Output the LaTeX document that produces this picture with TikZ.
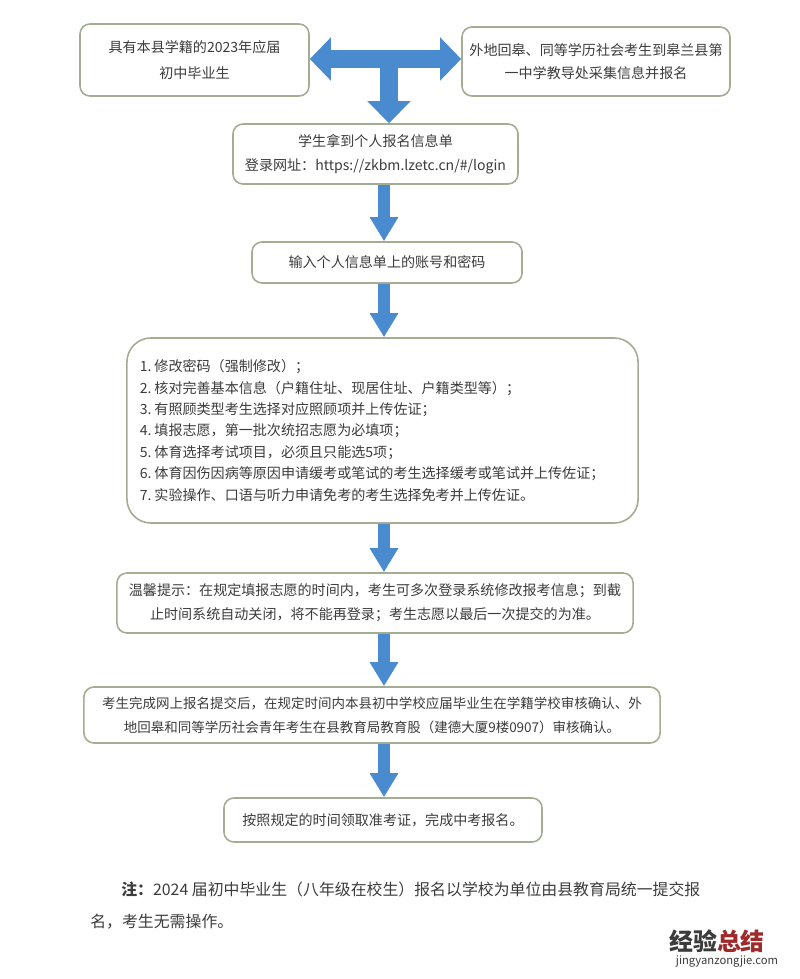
\documentclass[tikz,border=0pt]{standalone}
\usepackage{fontspec}
\setmainfont{Noto Sans CJK SC}
\usetikzlibrary{arrows.meta}
\definecolor{arrowblue}{HTML}{4A8BCF}
\definecolor{boxgreen}{HTML}{A4AD93}
\definecolor{textgray}{HTML}{3C3C3C}
\definecolor{markred}{HTML}{9E2B2B}

\begin{document}
\begin{tikzpicture}[
						x=0.025cm, y=-0.025cm,
						% Define a style for the boxes and the blue arrows
						box style/.style={draw=boxgreen, line width=0.4mm, rounded corners=2.5mm, fill=white, text=textgray, align=center, inner sep=0pt, font=\fontsize{10}{17}\selectfont},
						flow arrow/.style={draw=arrowblue, line width=2.9mm, -{Triangle[width=6.75mm, length=6mm]}},
						t arrow/.style={draw=arrowblue, line width=4.5mm}
						]
						\useasboundingbox (0,0) rectangle (800,979);
						
						% Define and place your nodes
						\node[box style, minimum width=5.725cm, minimum height=1.8cm] (local) at (194.5,60) {具有本县学籍的2023年应届\\[1.5pt]初中毕业生};
						\node[box style, minimum width=6.7cm, minimum height=1.725cm] (remote) at (596,61.5) {外地回皋、同等学历社会考生到皋兰县第\\[-1pt]一中学教导处采集信息并报名};
						\node[box style, minimum width=7.125cm, minimum height=1.5cm] (login) at (375.5,154) {学生拿到个人报名信息单\\登录网址：https://zkbm.lzetc.cn/\#/login};
						\node[box style, minimum width=6.75cm, minimum height=1.025cm] (account) at (387,262.5) {输入个人信息单上的账号和密码};
						\node[box style, rounded corners=6mm, align=left, text width=12.125cm, inner xsep=0.325cm, minimum height=4.625cm, font=\fontsize{10}{15.2}\selectfont] (steps) at (382.5,430.5) {1.\hspace{0.2em}修改密码（强制修改）；\\
							2.\hspace{0.2em}核对完善基本信息（户籍住址、现居住址、户籍类型等）；\\
							3.\hspace{0.2em}有照顾类型考生选择对应照顾项并上传佐证；\\
							4.\hspace{0.2em}填报志愿，第一批次统招志愿为必填项；\\
							5.\hspace{0.2em}体育选择考试项目，必须且只能选5项；\\
							6.\hspace{0.2em}体育因伤因病等原因申请缓考或笔试的考生选择缓考或笔试并上传佐证；\\
							7.\hspace{0.2em}实验操作、口语与听力申请免考的考生选择免考并上传佐证。};
						\node[box style, minimum width=12.9cm, minimum height=1.5cm] (tip) at (375,603) {温馨提示：在规定填报志愿的时间内，考生可多次登录系统修改报考信息；到截\\止时间系统自动关闭，将不能再登录；考生志愿以最后一次提交的为准。};
						\node[box style, minimum width=14.4cm, minimum height=1.4cm, font=\fontsize{9.6}{17}\selectfont] (review) at (372,715) {考生完成网上报名提交后，在规定时间内本县初中学校应届毕业生在学籍学校审核确认、外\\地回皋和同等学历社会青年考生在县教育局教育股（建德大厦9楼0907）审核确认。};
						\node[box style, minimum width=7.95cm, minimum height=1.1cm] (ticket) at (383,820) {按照规定的时间领取准考证，完成中考报名。};
						
						% --- Note below the chart ---
						\node[anchor=base west, inner sep=0pt, text=textgray, font=\fontsize{11.3}{11.3}\selectfont] (note1) at (121,895) {\textbf{注：}2024 届初中毕业生（八年级在校生）报名以学校为单位由县教育局统一提交报};
						\node[anchor=base west, inner sep=0pt, text=textgray, font=\fontsize{11.3}{11.3}\selectfont] (note2) at (90,927) {名，考生无需操作。};
						
						% --- Watermark ---
						\node[inner sep=0pt, text=textgray, font=\bfseries\fontsize{17}{17}\selectfont] (mark) at (717,941) {经验\textcolor{markred}{总结}};
						\node[inner sep=0pt, text=textgray, font=\fontsize{8}{8}\selectfont] (markurl) at (727,962) {jingyanzongjie.com};
						
						% --- Draw the arrows ---
						\coordinate (axis) at (384,0);
						\coordinate (tjoin) at (389,59);
						\draw[t arrow, -{Triangle[width=10.5mm, length=5.5mm]}] (tjoin) -- (tjoin |- login.north);
						\draw[t arrow, {Triangle[width=10.5mm, length=5.25mm]}-{Triangle[width=10.5mm, length=5.25mm]}] (local.east |- tjoin) -- (tjoin -| remote.west);
						\foreach \a/\b in {login/account, account/steps, steps/tip, tip/review, review/ticket}
						\draw[flow arrow] (\a.south -| axis) -- (\b.north -| axis);
					\end{tikzpicture}
\end{document}
